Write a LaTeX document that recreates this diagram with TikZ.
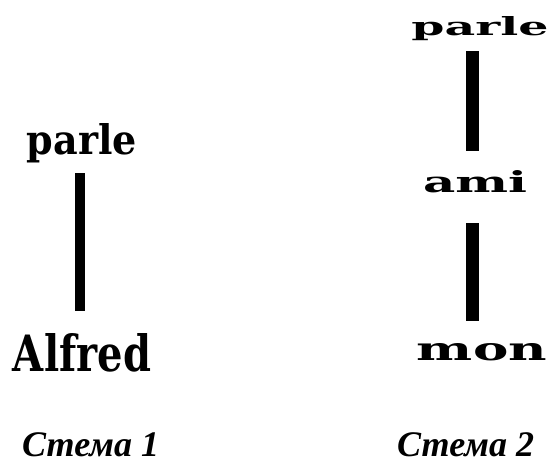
\documentclass[tikz,border=0pt]{standalone}
\usepackage{fontspec}
\usepackage{graphicx}
\setmainfont{Liberation Serif}
\newfontfamily\wordfont{DejaVu Serif}
\begin{document}
\begin{tikzpicture}[x=1bp,y=-1bp]
\useasboundingbox (0,0) rectangle (559,466);
\tikzset{
  word/.style={inner sep=0pt, outer sep=0pt, anchor=base, font=\wordfont\bfseries},
  stem/.style={line width=#1, line cap=butt},
  stem/.default=10bp,
  caption/.style={inner sep=0pt, anchor=base west,
    font=\fontsize{36bp}{40bp}\selectfont\bfseries\itshape}
}
% Stemma 1: parle -- Alfred
\node[word] (p1) at (82,155) {\resizebox{110bp}{31bp}{parle}};
\node[word] (al) at (82,371) {\resizebox{138bp}{38bp}{Alfred}};
\coordinate (x1) at (80,0);
\draw[stem=10bp, shorten <=10bp, shorten >=22bp] (p1.south -| x1) -- (al.north -| x1);

% Stemma 2: parle -- ami -- mon
\node[word] (p2) at (480,36) {\resizebox{137bp}{19bp}{parle}};
\node[word] (am) at (475,193) {\resizebox{104bp}{22bp}{ami}};
\node[word] (mo) at (482,360) {\resizebox{130bp}{17bp}{mon}};
\coordinate (x2) at (472,0);
\draw[stem=13bp, shorten <=10bp, shorten >=20bp] (p2.south -| x2) -- (am.north -| x2);
\draw[stem=13bp, shorten <=30bp, shorten >=22bp] (am.south -| x2) -- (mo.north -| x2);

% captions
\node[caption] (c1) at (22,456) {Стема 1};
\node[caption] (c2) at (397,456) {Стема 2};
\end{tikzpicture}
\end{document}
